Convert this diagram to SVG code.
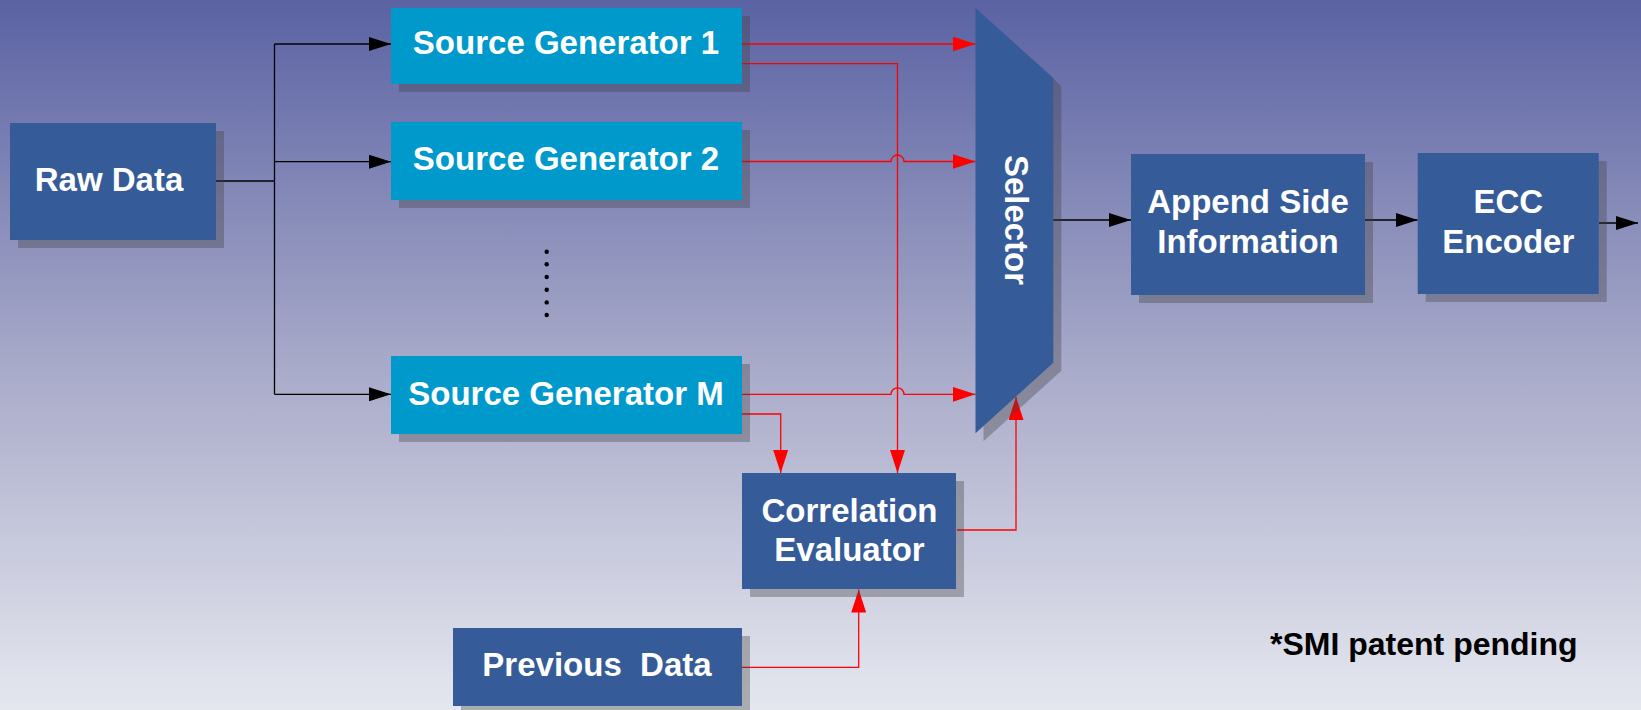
<svg xmlns="http://www.w3.org/2000/svg" width="1641" height="710" viewBox="0 0 1641 710">
<defs>
<linearGradient id="bg" x1="0" y1="0" x2="0" y2="1">
<stop offset="0" stop-color="#5a62a3"/>
<stop offset="0.5" stop-color="#a6a8c8"/>
<stop offset="1" stop-color="#e5e7ef"/>
</linearGradient>
<marker id="ab" markerUnits="userSpaceOnUse" markerWidth="22" markerHeight="14" refX="22" refY="7" orient="auto">
<path d="M0,0 L22,7 L0,14 Z" fill="#000"/>
</marker>
<marker id="ar" markerUnits="userSpaceOnUse" markerWidth="23" markerHeight="15" refX="23" refY="7.5" orient="auto">
<path d="M0,0 L23,7.5 L0,15 Z" fill="#ff0000"/>
</marker>
</defs>
<style>
.sh{fill:#404040;fill-opacity:0.35}
.bx{fill:#355b98}
.sg{fill:#0099cc}
.t{font-family:"Liberation Sans",Arial,sans-serif;font-weight:bold;font-size:33px;fill:#fff;text-anchor:middle}
.bl{fill:none;stroke:#000;stroke-width:1.3}
.rd{fill:none;stroke:#ff0000;stroke-width:1.3}
</style>
<rect x="0" y="0" width="1641" height="710" fill="url(#bg)"/>

<g id="connectors">
<path class="bl" d="M216,181 H274.5" stroke="#333" stroke-width="2"/>
<path class="bl" d="M274.5,44 V394.3"/>
<path class="bl" d="M274.5,44 H391" marker-end="url(#ab)"/>
<path class="bl" d="M274.5,161.7 H391" marker-end="url(#ab)"/>
<path class="bl" d="M274.5,394.3 H391" marker-end="url(#ab)"/>
<path class="bl" d="M1053,220 H1131" marker-end="url(#ab)"/>
<path class="bl" d="M1365,220 H1417.7" marker-end="url(#ab)"/>
<path class="bl" d="M1599,223 H1638" marker-end="url(#ab)"/>
<path class="rd" d="M742,44 H975.5" marker-end="url(#ar)"/>
<path class="rd" d="M742,63.7 H897.5 V473" marker-end="url(#ar)"/>
<path class="rd" d="M742,161.5 H891 A6.5,6.5 0 0 1 904,161.5 H975.5" marker-end="url(#ar)"/>
<path class="rd" d="M742,394.3 H891 A6.5,6.5 0 0 1 904,394.3 H975.5" marker-end="url(#ar)"/>
<path class="rd" d="M742,414 H780.7 V473" marker-end="url(#ar)"/>
<path class="rd" d="M957,530 H1016 V397" marker-end="url(#ar)"/>
<path class="rd" d="M742,667.3 H858.7 V589.5" marker-end="url(#ar)"/>
</g>

<g id="raw-data">
<rect class="sh" x="18" y="131" width="206" height="117"/>
<rect class="bx" x="10" y="123" width="206" height="117"/>
<text class="t" x="109" y="191">Raw Data</text>
</g>

<g id="source-generator-1">
<rect class="sh" x="399" y="16" width="351" height="76"/>
<rect class="sg" x="391" y="8" width="351" height="76"/>
<text class="t" x="566" y="54">Source Generator 1</text>
</g>

<g id="source-generator-2">
<rect class="sh" x="399" y="130" width="351" height="78"/>
<rect class="sg" x="391" y="122" width="351" height="78"/>
<text class="t" x="566" y="170">Source Generator 2</text>
</g>

<g id="ellipsis" fill="#000">
<circle cx="546.7" cy="251.7" r="2.2"/>
<circle cx="546.7" cy="264.3" r="2.2"/>
<circle cx="546.7" cy="277" r="2.2"/>
<circle cx="546.7" cy="289.7" r="2.2"/>
<circle cx="546.7" cy="302.4" r="2.2"/>
<circle cx="546.7" cy="315" r="2.2"/>
</g>

<g id="source-generator-m">
<rect class="sh" x="399" y="364" width="351" height="78"/>
<rect class="sg" x="391" y="356" width="351" height="78"/>
<text class="t" x="566" y="405">Source Generator M</text>
</g>

<g id="selector">
<path class="sh" d="M983.5,16 L1061.3,86 L1061.3,370.7 L983.5,441.3 Z"/>
<path class="bx" d="M975.5,8 L1053.3,78 L1053.3,362.7 L975.5,433.3 Z"/>
<text class="t" transform="translate(1005,220) rotate(90)" x="0" y="0">Selector</text>
</g>

<g id="correlation-evaluator">
<rect class="sh" x="750" y="481" width="214" height="116"/>
<rect class="bx" x="742" y="473" width="214" height="116"/>
<text class="t" x="849.5" y="521.7">Correlation</text>
<text class="t" x="849.5" y="560.7">Evaluator</text>
</g>

<g id="previous-data">
<rect class="sh" x="461" y="636" width="289" height="78"/>
<rect class="bx" x="453" y="628" width="289" height="78"/>
<text class="t" x="597" y="675.7" xml:space="preserve" style="white-space:pre">Previous  Data</text>
</g>

<g id="append-side-information">
<rect class="sh" x="1139" y="162" width="234" height="141"/>
<rect class="bx" x="1131" y="154" width="234" height="141"/>
<text class="t" x="1248" y="213.3">Append Side</text>
<text class="t" x="1248" y="253.3">Information</text>
</g>

<g id="ecc-encoder">
<rect class="sh" x="1425.7" y="161" width="181" height="141"/>
<rect class="bx" x="1417.7" y="153" width="181" height="141"/>
<text class="t" x="1508.3" y="213.3">ECC</text>
<text class="t" x="1508.3" y="253.3">Encoder</text>
</g>

<text x="1270" y="655" font-family="'Liberation Sans',Arial,sans-serif" font-weight="bold" font-size="32" fill="#000">*SMI patent pending</text>
</svg>
